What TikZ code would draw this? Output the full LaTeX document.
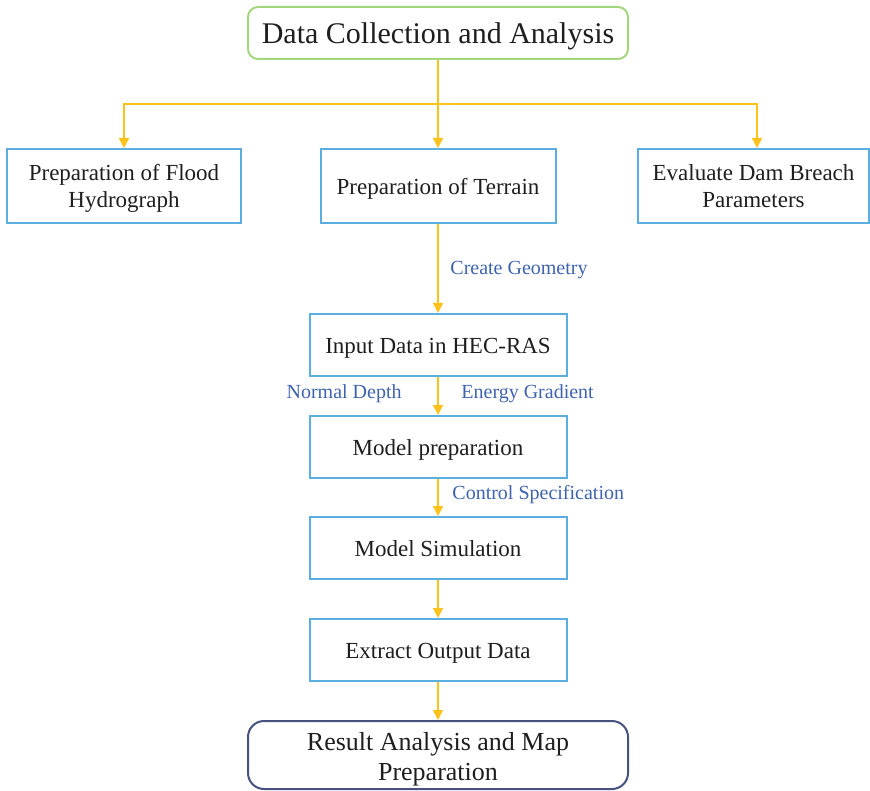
\documentclass[tikz,border=0pt]{standalone}
\usepackage{fontspec}
\setmainfont{Liberation Serif}
\usetikzlibrary{arrows.meta,positioning}
\definecolor{boxblue}{HTML}{5AAEE0}
\definecolor{topgreen}{HTML}{A4D67E}
\definecolor{endnavy}{HTML}{46527E}
\definecolor{flowyellow}{HTML}{FFC21A}
\definecolor{labelblue}{HTML}{3E63AE}
\definecolor{inkgrey}{HTML}{1E1E1E}
\newcommand{\boxlines}[2][-1.5pt]{\raisebox{#1}[\height][\depth]{\begin{tabular}{@{}c@{}}#2\end{tabular}}}
\begin{document}
\begin{tikzpicture}[x=0.5pt,y=-0.5pt,
                stagebox/.style={draw=boxblue,line width=1pt,text=inkgrey,
                    inner sep=0pt,font=\fontsize{11.5}{13.5}\selectfont},
                flow/.style={draw=flowyellow,line width=0.7pt,
                    -{Triangle[width=5pt,length=5pt]}},
                steplabel/.style={text=labelblue,font=\fontsize{10}{12}\selectfont,inner sep=0pt}]
                \useasboundingbox (0,0) rectangle (870,790);

                \node[draw=topgreen,line width=1pt,rounded corners=5pt,text=inkgrey,
                    minimum width=190pt,minimum height=26pt,inner sep=0pt,
                    font=\fontsize{15}{18}\selectfont] (collect) at (438,33)
                    {\boxlines[-1.5pt]{Data Collection and Analysis}};

                \node[stagebox,minimum width=117pt,minimum height=37pt] (hydro) at (124,186)
                    {\boxlines{Preparation of Flood\\Hydrograph}};
                \node[stagebox,minimum width=117.5pt,minimum height=37pt] (terrain) at (438,186)
                    {\boxlines{Preparation of Terrain}};
                \node[stagebox,minimum width=115.5pt,minimum height=37pt] (breach) at (753.5,186)
                    {\boxlines{Evaluate Dam Breach\\Parameters}};

                \node[stagebox,minimum width=128.5pt,minimum height=31pt] (input) at (438,345)
                    {\boxlines{Input Data in HEC-RAS}};
                \node[stagebox,minimum width=128.5pt,minimum height=31pt] (prep) at (438,447)
                    {\boxlines{Model preparation}};
                \node[stagebox,minimum width=128.5pt,minimum height=31pt] (sim) at (438,548)
                    {\boxlines{Model Simulation}};
                \node[stagebox,minimum width=128.5pt,minimum height=31pt] (extract) at (438,650)
                    {\boxlines{Extract Output Data}};

                \node[draw=endnavy,line width=1pt,rounded corners=8pt,text=inkgrey,
                    minimum width=190pt,minimum height=34pt,inner sep=0pt,
                    font=\fontsize{13}{15}\selectfont] (result) at (438,755)
                    {\boxlines[-2pt]{Result Analysis and Map\\Preparation}};

                \coordinate (split) at (438,104);
                \draw[draw=flowyellow,line width=0.7pt] (collect.south) -- (split);
                \draw[flow] (split) -| (hydro.north);
                \draw[flow] (split) -| ([xshift=1.75pt]breach.north);
                \draw[flow] (split) -- (terrain.north);

                \draw[flow] (terrain.south) -- (input.north);
                \draw[flow] (input.south) -- (prep.north);
                \draw[flow] (prep.south) -- (sim.north);
                \draw[flow] (sim.south) -- (extract.north);
                \draw[flow] (extract.south) -- (result.north);

                \node[steplabel,anchor=west] (geom) at (450,270) {Create Geometry};
                \node[steplabel,anchor=east] (depth) at (402,394) {Normal Depth};
                \node[steplabel,anchor=west] (energy) at (461,394) {Energy Gradient};
                \node[steplabel,anchor=west] (control) at (452,495) {Control Specification};

            \end{tikzpicture}
\end{document}
